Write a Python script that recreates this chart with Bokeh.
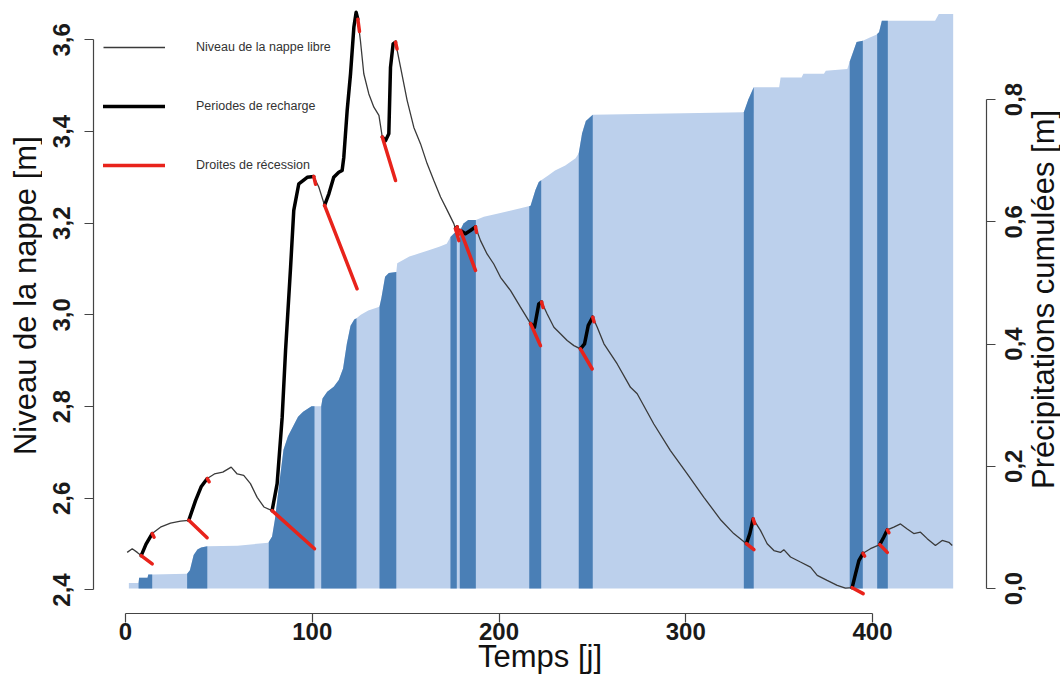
import math
import numpy as np
from bokeh.plotting import figure
from bokeh.layouts import row
from bokeh.models import (Range1d, LinearAxis, FixedTicker, Legend, LegendItem,
                          CustomJSTickFormatter)
from bokeh.core.properties import value
from bokeh.embed import file_html
from bokeh.resources import INLINE

# ---------------- data ----------------
days = [0.9, 3.6, 6.3, 8.4, 11.0, 14.3, 18.7, 24.1, 29.5, 33.9, 37.5, 40.5, 43.8,
        47.6, 52.1, 56.6, 59.8, 63.3, 66.9, 70.5, 74.1, 78.5, 81.2, 83.9, 85.7,
        88.4, 90.1, 92.8, 97.3, 100.8, 103.5, 106.6, 108.9, 111.5, 114.2, 116.0,
        116.9, 118.7, 120.5, 122.3, 123.5, 124.4, 125.8, 127.6, 130.3, 133.0,
        135.7, 137.5, 139.2, 141.0, 141.9, 143.3, 144.6, 147.3, 150.8, 154.4,
        158.0, 161.5, 165.1, 168.7, 172.3, 175.8, 176.7, 177.6, 179.4, 182.0,
        184.7, 187.4, 190.1, 193.6, 197.2, 200.8, 206.2, 211.5, 216.9, 219.0,
        221.3, 222.8, 225.8, 229.4, 232.9, 236.5, 240.1, 243.6, 245.8, 247.8,
        250.2, 252.6, 256.2, 263.3, 270.4, 274.0, 282.9, 291.8, 300.8, 309.7,
        318.9, 325.7, 332.5, 334.3, 336.1, 340.0, 343.6, 347.2, 350.7, 352.5,
        356.1, 361.4, 366.8, 370.4, 375.7, 381.1, 385.5, 389.1, 390.9, 392.7,
        394.9, 398.9, 403.9, 406.0, 407.9, 411.4, 415.0, 418.6, 422.1, 425.7,
        429.3, 433.7, 437.3, 440.9, 442.7]
level = [2.482, 2.490, 2.482, 2.475, 2.500, 2.523, 2.537, 2.546, 2.550, 2.552,
         2.595, 2.625, 2.643, 2.653, 2.657, 2.668, 2.653, 2.650, 2.632, 2.602,
         2.581, 2.573, 2.632, 2.777, 2.922, 3.104, 3.228, 3.286, 3.300, 3.302,
         3.279, 3.239, 3.264, 3.300, 3.311, 3.315, 3.344, 3.446, 3.526, 3.628,
         3.660, 3.645, 3.598, 3.526, 3.482, 3.453, 3.435, 3.388, 3.380, 3.395,
         3.540, 3.591, 3.595, 3.540, 3.468, 3.409, 3.373, 3.330, 3.293, 3.257,
         3.228, 3.199, 3.188, 3.192, 3.184, 3.177, 3.184, 3.192, 3.162, 3.133,
         3.111, 3.082, 3.053, 3.017, 2.981, 2.973, 3.024, 3.028, 3.002, 2.973,
         2.959, 2.944, 2.933, 2.926, 2.937, 2.977, 2.995, 2.973, 2.937, 2.893,
         2.842, 2.828, 2.762, 2.704, 2.653, 2.602, 2.552, 2.523, 2.501, 2.523,
         2.555, 2.530, 2.501, 2.486, 2.482, 2.488, 2.472, 2.461, 2.450, 2.432,
         2.421, 2.410, 2.404, 2.405, 2.435, 2.464, 2.480, 2.490, 2.499, 2.515,
         2.531, 2.537, 2.544, 2.533, 2.523, 2.526, 2.512, 2.497, 2.508, 2.504,
         2.497]

recharge_start = [8.4, 33.9, 78.5, 106.6, 137.5, 176.7, 179.4, 216.9, 243.6, 332.5, 389.1, 403.9]
recharge_end = [14.3, 43.8, 100.8, 124.4, 144.6, 177.6, 187.4, 222.8, 250.2, 336.1, 394.9, 407.9]

# recession lines: from recharge start to these points
recession_end_day = [14.3, 43.7, 101.2, 124.0, 144.6, 178.5, 187.4, 222.2, 249.9, 336.5, 395.0, 407.9]
recession_end_level = [2.457, 2.514, 2.490, 3.057, 3.293, 3.162, 3.097, 2.933, 2.882, 2.488, 2.392, 2.482]

# short recession marks after each recharge peak
peak_mark_day = [15.3, 44.8, 101.8, 125.3, 145.4, 178.2, 188.0, 223.6, 250.9, 336.9, 395.8, 408.8]
peak_mark_level = [2.515, 2.636, 3.285, 3.618, 3.580, 3.175, 3.180, 3.016, 2.985, 2.545, 2.474, 2.525]

# cumulative precipitation [m]
precip_day = [1.8, 7.0, 7.3, 11.8, 12.2, 14.3, 33.0, 34.5, 36.5, 38.5, 40.5, 43.8,
              60.0, 76.5, 78.5, 80.0, 82.4, 84.6, 87.0, 89.7, 92.4, 95.1, 99.6,
              104.8, 105.5, 108.0, 111.5, 114.2, 116.5, 118.5, 120.5, 122.5, 123.7,
              126.0, 130.0, 136.0, 137.0, 139.0, 141.0, 145.0, 145.5, 152.0, 157.0,
              162.0, 168.0, 172.0, 174.0, 176.0, 179.0, 181.0, 183.5, 187.6, 191.9,
              199.0, 207.0, 211.5, 216.9, 219.5, 221.3, 222.6, 226.5, 230.0, 235.5,
              241.0, 242.7, 244.5, 246.5, 250.2, 331.1, 333.5, 336.4, 350.0,
              350.8, 362.0, 363.0, 374.0, 375.0, 386.5, 388.0, 391.5, 394.8, 398.9,
              402.0, 403.5, 405.0, 408.2, 433.5, 435.5, 443.2]
precip_cum = [0.009, 0.009, 0.0175, 0.0175, 0.023, 0.023, 0.024, 0.030, 0.055, 0.064,
              0.067, 0.069, 0.070, 0.075, 0.085, 0.113, 0.173, 0.227, 0.249, 0.265,
              0.281, 0.289, 0.298, 0.298, 0.311, 0.322, 0.330, 0.341, 0.360, 0.400,
              0.430, 0.440, 0.442, 0.448, 0.455, 0.461, 0.475, 0.510, 0.516, 0.518,
              0.532, 0.543, 0.548, 0.553, 0.559, 0.564, 0.575, 0.581, 0.585, 0.597,
              0.603, 0.603, 0.608, 0.613, 0.619, 0.622, 0.626, 0.652, 0.665, 0.668,
              0.676, 0.684, 0.692, 0.704, 0.712, 0.745, 0.765, 0.775, 0.779,
              0.800, 0.820, 0.820, 0.836, 0.836, 0.842, 0.842, 0.847, 0.850, 0.864,
              0.894, 0.896, 0.902, 0.906, 0.910, 0.929, 0.929, 0.929, 0.940, 0.940]

rain_start = [7.0, 33.0, 76.7, 104.8, 136.0, 174.0, 179.0, 216.2, 242.7, 331.1, 387.8, 402.5]
rain_end = [14.3, 43.8, 101.2, 123.7, 145.0, 177.4, 187.6, 222.6, 250.2, 336.4, 394.8, 408.2]

y_ticks_level = [2.4, 2.6, 2.8, 3.0, 3.2, 3.4, 3.6]
y_ticks_precip = [0.0, 0.2, 0.4, 0.6, 0.8]
x_ticks = [0, 100, 200, 300, 400]
precip_tick_labels = [f"{v:.1f}".replace(".", ",") for v in y_ticks_precip]

# ---------------- figure ----------------
LIGHT = "#bcd0ec"
DARK = "#4a7fb6"
RED = "#e8231b"
TITLE_FONT = "Liberation Sans"
TITLE_SIZE = "31px"
TICK_FONT = "Liberation Sans"
TICK_SIZE = "24px"

level_range = Range1d(2.3487, 3.6683)
precip_range = Range1d(-0.0409, 0.9489)

p = figure(width=958, height=690, output_backend="svg", toolbar_location=None,
           x_range=Range1d(-17.135, 461.04), y_range=level_range,
           min_border_left=51, min_border_right=14, min_border_top=8,
           min_border_bottom=77)
p.extra_y_ranges = {"precip": precip_range}
p.outline_line_color = None
p.xgrid.visible = False
p.ygrid.visible = False
p.background_fill_color = "white"

# precipitation fills
p.varea(x=precip_day, y1=0, y2=precip_cum, fill_color=LIGHT, y_range_name="precip")
pd_arr = np.array(precip_day)
for a, b in zip(rain_start, rain_end):
    xs = [a] + [d for d in precip_day if a < d < b] + [b]
    ys = np.interp(xs, pd_arr, precip_cum)
    p.varea(x=xs, y1=0, y2=list(ys), fill_color=DARK, y_range_name="precip")

# level line
r_level = p.line(days, level, line_color="#3a3a3a", line_width=1.3)

# recharge periods (thick)
xs_list, ys_list = [], []
for s, e in zip(recharge_start, recharge_end):
    xs_list.append([d for d in days if s - 1e-9 <= d <= e + 1e-9])
    ys_list.append([l for d, l in zip(days, level) if s - 1e-9 <= d <= e + 1e-9])
r_thick = p.multi_line(xs_list, ys_list, line_color="black", line_width=3.5,
                       line_cap="round", line_join="round")

# recession lines
rec_start_level = [float(np.interp(s, days, level)) for s in recharge_start]
r_red = p.segment(x0=recharge_start, y0=rec_start_level, x1=recession_end_day,
                  y1=recession_end_level, line_color=RED, line_width=3.5,
                  line_cap="round")
peak_level = [float(np.interp(e, days, level)) for e in recharge_end]
p.segment(x0=recharge_end, y0=peak_level, x1=peak_mark_day, y1=peak_mark_level,
          line_color=RED, line_width=3.5, line_cap="round")


# ---------------- axes ----------------
def style_axis(ax):
    ax.axis_line_color = "#444444"
    ax.axis_line_width = 1.2
    ax.major_tick_line_color = "#444444"
    ax.major_tick_line_width = 1.2
    ax.major_tick_in = 0
    ax.major_tick_out = 9
    ax.minor_tick_line_color = None
    ax.major_label_text_font = TICK_FONT
    ax.major_label_text_font_style = "bold"
    ax.major_label_text_font_size = TICK_SIZE
    ax.major_label_text_color = "#1a1a1a"
    ax.axis_label_text_font = TITLE_FONT
    ax.axis_label_text_font_style = "normal"
    ax.axis_label_text_font_size = TITLE_SIZE
    ax.axis_label_text_color = "#111111"


xa = p.xaxis[0]
style_axis(xa)
xa.ticker = FixedTicker(ticks=x_ticks)
xa.bounds = (0, 400)
xa.axis_label = "Temps [j]"
xa.major_label_standoff = 0
xa.axis_label_standoff = -4

ya = p.yaxis[0]
style_axis(ya)
ya.ticker = FixedTicker(ticks=y_ticks_level)
ya.formatter = CustomJSTickFormatter(code="return tick.toFixed(1).replace('.', ',');")
ya.bounds = (2.4, 3.6)
ya.major_label_orientation = "vertical"
ya.major_label_standoff = 14

# right axis: line and ticks here, its (upward-reading) labels in the side panel
ra = LinearAxis(y_range_name="precip")
style_axis(ra)
ra.ticker = FixedTicker(ticks=y_ticks_precip)
ra.formatter = CustomJSTickFormatter(code="return '';")
ra.major_label_text_font_size = "1px"
ra.bounds = (0, 0.8)
ra.major_label_standoff = 0
p.add_layout(ra, "right")

# ---------------- legend ----------------
legend = Legend(items=[LegendItem(label="Niveau de la nappe libre", renderers=[r_level]),
                       LegendItem(label="Periodes de recharge", renderers=[r_thick]),
                       LegendItem(label="Droites de récession", renderers=[r_red])],
                location=(10, 438))
legend.border_line_color = None
legend.background_fill_alpha = 0
legend.label_text_font = "Liberation Sans"
legend.label_text_font_size = "12.5px"
legend.label_text_color = "#333333"
legend.glyph_width = 62
legend.glyph_height = 20
legend.spacing = 39
legend.padding = 0
legend.margin = 0
legend.label_standoff = 31
p.add_layout(legend)

# ---------------- left side panel (level axis title) ----------------
left = figure(width=42, height=690, output_backend="svg", toolbar_location=None,
              x_range=Range1d(0, 42), y_range=level_range,
              x_axis_location=None, y_axis_location=None,
              min_border_left=0, min_border_right=0, min_border_top=8,
              min_border_bottom=77)
left.outline_line_color = None
left.xgrid.visible = False
left.ygrid.visible = False
left.text(x=[25], y=[3.042], text=["Niveau de la nappe [m]"],
          angle=math.pi / 2, text_align="center", text_baseline="middle",
          text_font=value(TITLE_FONT), text_font_size=value(TITLE_SIZE),
          text_color="#111111")

# ---------------- right side panel (precipitation tick labels + title) ----------------
side = figure(width=60, height=690, output_backend="svg", toolbar_location=None,
              x_range=Range1d(0, 60), y_range=precip_range,
              x_axis_location=None, y_axis_location=None,
              min_border_left=0, min_border_right=0, min_border_top=8,
              min_border_bottom=77)
side.outline_line_color = None
side.xgrid.visible = False
side.ygrid.visible = False
side.text(x=[12.5] * len(y_ticks_precip), y=y_ticks_precip, text=precip_tick_labels,
          angle=math.pi / 2, text_align="center", text_baseline="middle",
          text_font=value(TICK_FONT), text_font_style="bold",
          text_font_size=value(TICK_SIZE), text_color="#1a1a1a")
side.text(x=[43], y=[0.473], text=["Précipitations cumulées [m]"],
          angle=math.pi / 2, text_align="center", text_baseline="middle",
          text_font=value(TITLE_FONT), text_font_size=value(TITLE_SIZE),
          text_color="#111111")

layout = row(left, p, side, spacing=0)
open("out.html", "w").write(file_html(layout, INLINE))
